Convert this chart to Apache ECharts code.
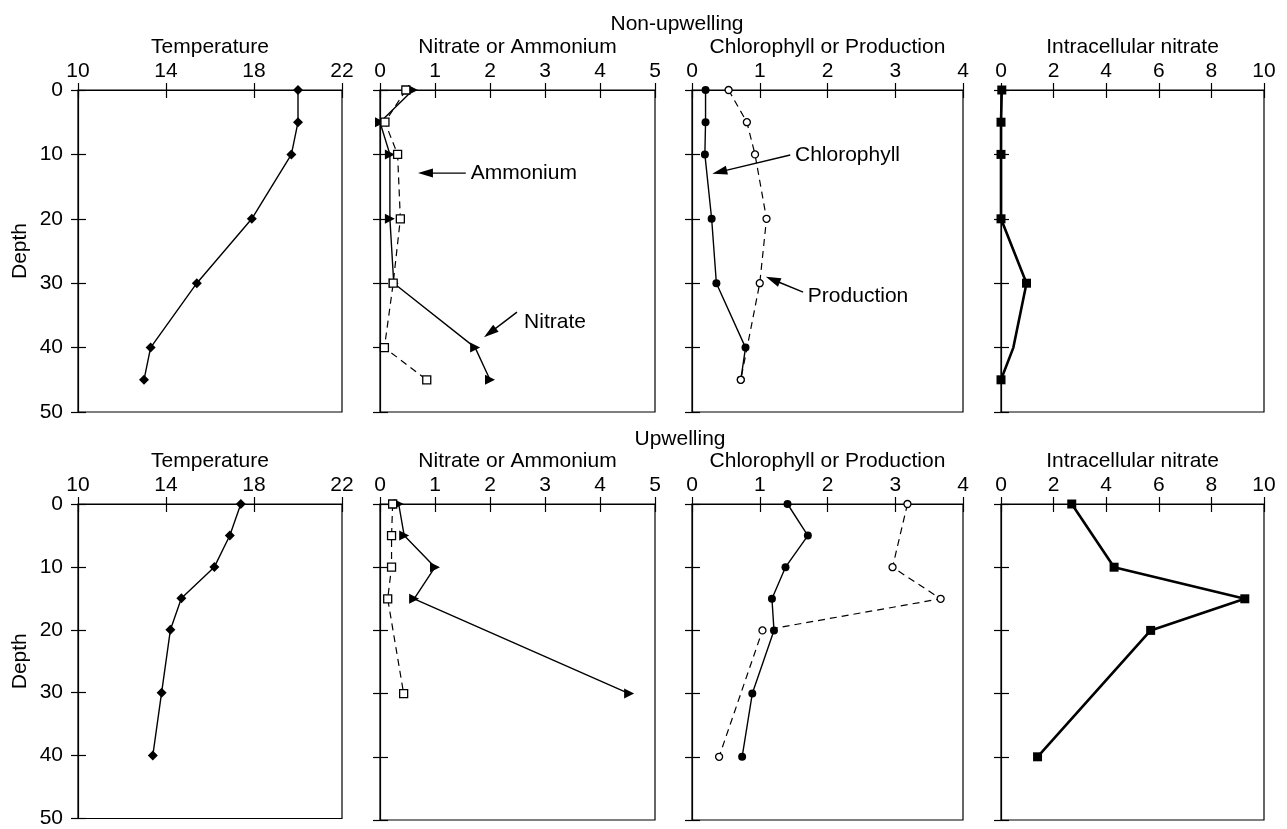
<!DOCTYPE html>
<html>
<head>
<meta charset="utf-8">
<title>Depth profiles: non-upwelling and upwelling</title>
<script src="https://cdn.jsdelivr.net/npm/echarts@6/dist/echarts.min.js"></script>
<style>
  html, body { margin: 0; padding: 0; background: #fff; }
  #chart { width: 1287px; height: 829px; }
</style>
</head>
<body>
<div id="chart"></div>
<script>
// ---- Panel headings and axis ranges ----
const rowTitles = ['Non-upwelling', 'Upwelling'];
const panelTitles = ['Temperature', 'Nitrate or Ammonium', 'Chlorophyll or Production', 'Intracellular nitrate'];
const panelMin = [10, 0, 0, 0];
const panelMax = [22, 5, 4, 10];
const panelStep = [4, 1, 1, 2];
const depthLabel = 'Depth';
const depthMin = 0, depthMax = 50, depthStep = 10;

// ---- Non-upwelling station ----
const depthNon = [0, 5, 10, 20, 30, 40, 45];
const tempNon = [20.0, 20.0, 19.7, 17.9, 15.4, 13.3, 13.0];
const nitrateNon = [0.6, 0.0, 0.18, 0.18, 0.25, 1.73, 2.0];
const ammoniumNon = [0.47, 0.09, 0.32, 0.37, 0.24, 0.08, 0.85];
const chlNon = [0.2, 0.2, 0.19, 0.29, 0.36, 0.79, 0.72];
const prodNonDepth = [0, 5, 10, 20, 30, 45];
const prodNon = [0.54, 0.81, 0.93, 1.1, 1.0, 0.72];
const intraNon = [0.03, 0.0, 0.0, 0.0, 0.97, 0.47, 0.0];
const intraNonUnmarked = [40];   // bend in the line without a sample symbol

// ---- Upwelling station ----
const depthUp = [0, 5, 10, 15, 20, 30, 40];
const tempUp = [17.4, 16.9, 16.2, 14.7, 14.2, 13.8, 13.4];
const nutUpDepth = [0, 5, 10, 15, 30];
const nitrateUp = [0.34, 0.44, 1.0, 0.62, 4.53];
const ammoniumUp = [0.23, 0.21, 0.21, 0.14, 0.43];
const chlUp = [1.41, 1.71, 1.38, 1.18, 1.21, 0.89, 0.74];
const prodUpDepth = [0, 10, 15, 20, 40];
const prodUp = [3.18, 2.96, 3.67, 1.04, 0.40];
const intraUpDepth = [0, 10, 15, 20, 40];
const intraUp = [2.69, 4.3, 9.27, 5.69, 1.39];

// ---- Callout labels (data coordinates of the panel they sit in) ----
const callouts = [
  { panel: 1, text: 'Ammonium',    tail: [1.56, 12.9], tip: [0.69, 12.9], at: [1.65, 12.9] },
  { panel: 1, text: 'Nitrate',     tail: [2.49, 34.5], tip: [1.89, 38.4], at: [2.62, 36.0] },
  { panel: 2, text: 'Chlorophyll', tail: [1.45, 10.1], tip: [0.30, 13.0], at: [1.52, 10.1] },
  { panel: 2, text: 'Production',  tail: [1.64, 31.4], tip: [1.09, 29.0], at: [1.71, 32.0] }
];

// ---- Layout ----
const FONT = '"Liberation Sans", Arial, Helvetica, sans-serif';
const FS = 21;
const colLeft = [78, 380, 692, 1001];
const colWidth = [264, 275, 271, 263];
const rowTop = [90, 504];
const rowHeight = [322, 316];

const pairs = (xs, ds) => xs.map((v, i) => [v, ds[i]]);

const styles = {
  diamond:  { symbol: 'diamond', symbolSize: 10, itemStyle: { color: '#000' } },
  triangle: { symbol: 'triangle', symbolSize: 10, symbolRotate: -90, itemStyle: { color: '#000' } },
  openSq:   { symbol: 'rect', symbolSize: 8, itemStyle: { color: '#fff', borderColor: '#000', borderWidth: 1.3 } },
  dot:      { symbol: 'circle', symbolSize: 8, itemStyle: { color: '#000' } },
  ring:     { symbol: 'circle', symbolSize: 7, itemStyle: { color: '#fff', borderColor: '#000', borderWidth: 1.3 } },
  block:    { symbol: 'rect', symbolSize: 9, itemStyle: { color: '#000' } }
};
const solid = { color: '#000', width: 1.4, type: 'solid' };
const dashed = { color: '#000', width: 1.2, type: [7, 5] };
const heavy = { color: '#000', width: 2.6, type: 'solid' };

// series per panel: [panelIndex, data, style, line]
const seriesDefs = [
  [0, pairs(tempNon, depthNon), 'diamond', solid],
  [1, pairs(nitrateNon, depthNon), 'triangle', solid],
  [1, pairs(ammoniumNon, depthNon), 'openSq', dashed],
  [2, pairs(prodNon, prodNonDepth), 'ring', dashed],
  [2, pairs(chlNon, depthNon), 'dot', solid],
  [3, pairs(intraNon, depthNon).map(p => intraNonUnmarked.includes(p[1]) ? { value: p, symbol: 'none' } : p), 'block', heavy],
  [4, pairs(tempUp, depthUp), 'diamond', solid],
  [5, pairs(nitrateUp, nutUpDepth), 'triangle', solid],
  [5, pairs(ammoniumUp, nutUpDepth), 'openSq', dashed],
  [6, pairs(prodUp, prodUpDepth), 'ring', dashed],
  [6, pairs(chlUp, depthUp), 'dot', solid],
  [7, pairs(intraUp, intraUpDepth), 'block', heavy]
];

const grid = [], xAxis = [], yAxis = [], series = [];
const axisLine = { show: true, onZero: false, lineStyle: { color: '#000', width: 1.2 } };
const hiddenLine = { show: false, onZero: false };
const tickStyle = { color: '#000', width: 1.2 };

// Each panel gets a second, unlabeled copy of both axes carrying inward ticks,
// so that the ticks cross the frame line.
for (let r = 0; r < 2; r++) {
  for (let c = 0; c < 4; c++) {
    const g = r * 4 + c;
    grid.push({
      left: colLeft[c], width: colWidth[c], top: rowTop[r], height: rowHeight[r],
      show: true, borderColor: '#000', borderWidth: 1.2, backgroundColor: 'transparent'
    });
    const xBase = { gridIndex: g, type: 'value', position: 'top', min: panelMin[c], max: panelMax[c], interval: panelStep[c], splitLine: { show: false } };
    xAxis.push(Object.assign({}, xBase, {
      name: panelTitles[c], nameLocation: 'middle', nameGap: 32,
      nameTextStyle: { fontSize: FS, color: '#000', fontFamily: FONT },
      axisLine: axisLine,
      axisTick: { show: true, inside: false, length: 7, lineStyle: tickStyle },
      axisLabel: { show: true, fontSize: FS, color: '#000', fontFamily: FONT, margin: 8 }
    }));
    xAxis.push(Object.assign({}, xBase, {
      axisLine: hiddenLine,
      axisTick: { show: true, inside: true, length: 8, lineStyle: tickStyle },
      axisLabel: { show: false }
    }));
    const yBase = { gridIndex: g, type: 'value', position: 'left', inverse: true, min: depthMin, max: depthMax, interval: depthStep, splitLine: { show: false } };
    yAxis.push(Object.assign({}, yBase, {
      name: c === 0 ? depthLabel : '', nameLocation: 'middle', nameRotate: 90, nameGap: 47,
      nameTextStyle: { fontSize: FS, color: '#000', fontFamily: FONT },
      axisLine: axisLine,
      axisTick: { show: true, inside: false, length: 7, lineStyle: tickStyle },
      axisLabel: { show: c === 0, fontSize: FS, color: '#000', fontFamily: FONT, margin: 15 }
    }));
    yAxis.push(Object.assign({}, yBase, {
      axisLine: hiddenLine,
      axisTick: { show: true, inside: true, length: 8, lineStyle: tickStyle },
      axisLabel: { show: false }
    }));
  }
}

seriesDefs.forEach(([p, data, st, line]) => {
  series.push(Object.assign({
    type: 'line', xAxisIndex: 2 * p, yAxisIndex: 2 * p,
    data: data, lineStyle: line, showSymbol: true, silent: true, z: line === dashed ? 3 : 2
  }, styles[st]));
});

const chart = echarts.init(document.getElementById('chart'), null, { renderer: 'canvas' });
chart.setOption({
  animation: false,
  backgroundColor: '#fff',
  textStyle: { fontFamily: FONT },
  title: [
    { text: rowTitles[0], left: 672, top: 9, textAlign: 'center', textStyle: { fontSize: FS, fontWeight: 'normal', color: '#000', fontFamily: FONT } },
    { text: rowTitles[1], left: 675, top: 424, textAlign: 'center', textStyle: { fontSize: FS, fontWeight: 'normal', color: '#000', fontFamily: FONT } }
  ],
  grid, xAxis, yAxis, series
});

// Callout arrows and labels, placed through the panel's own axes
const graphics = [];
callouts.forEach(cl => {
  const finder = { xAxisIndex: 2 * cl.panel, yAxisIndex: 2 * cl.panel };
  const S = chart.convertToPixel(finder, cl.tail);
  const T = chart.convertToPixel(finder, cl.tip);
  const A = chart.convertToPixel(finder, cl.at);
  const dx = T[0] - S[0], dy = T[1] - S[1];
  const len = Math.hypot(dx, dy);
  const ux = dx / len, uy = dy / len, nx = -uy, ny = ux;
  const L = 15, W = 4.5;
  const bx = T[0] - ux * L, by = T[1] - uy * L;
  graphics.push({
    type: 'line', silent: true,
    shape: { x1: S[0], y1: S[1], x2: bx + ux * 2, y2: by + uy * 2 },
    style: { stroke: '#000', lineWidth: 1.4 }
  });
  graphics.push({
    type: 'polygon', silent: true,
    shape: { points: [[T[0], T[1]], [bx + nx * W, by + ny * W], [bx - nx * W, by - ny * W]] },
    style: { fill: '#000' }
  });
  graphics.push({
    type: 'text', silent: true, x: A[0], y: A[1],
    style: { text: cl.text, fontSize: FS, fontFamily: FONT, fill: '#000', align: 'left', verticalAlign: 'middle' }
  });
});
chart.setOption({ graphic: graphics });
</script>
</body>
</html>
